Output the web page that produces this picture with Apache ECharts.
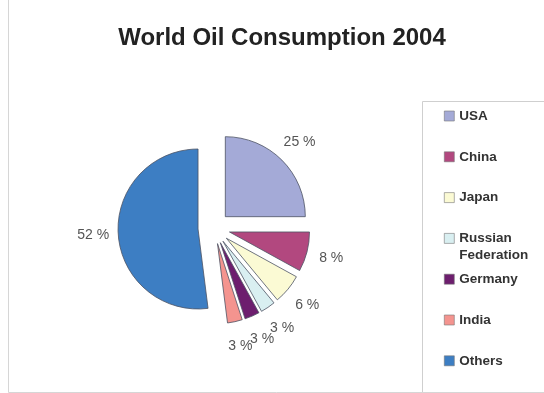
<!DOCTYPE html>
<html>
<head>
<meta charset="utf-8">
<script src="https://cdn.jsdelivr.net/npm/echarts@6/dist/echarts.min.js"></script>
<style>
  html, body { margin: 0; padding: 0; background: #fff; }
  #chart { width: 544px; height: 393px; }
</style>
</head>
<body>
<div id="chart"></div>
<script>
// data
const countries = ["USA", "China", "Japan", "Russian Federation", "Germany", "India", "Others"];
const shares = [25, 8, 6, 3, 3, 3, 52];
// washed-out Excel 2003 palette
const colors = ["#a4aad7", "#b2487f", "#fbfad4", "#d9eff1", "#6d1e6e", "#f4948f", "#3d7ec3"];

const pieData = countries.map((name, i) => ({
  name: name,
  value: shares[i],
  selected: true,
  itemStyle: { color: colors[i] },
}));

// excel-ish labels sit centred on the radial line, so they come from a
// second, invisible ring whose "inside" labels land just past the slices
const labelRing = countries.map((name, i) => ({ name: name, value: shares[i] }));

const font = "Liberation Sans";
const center = [214, 228];

// one legend block per item so the two-line entry keeps the even spacing
const legendStep = 40.8;
const legends = countries.map((name, i) => {
  const twoLine = name.indexOf(" ") > 0;
  const cy = 116 + i * legendStep;
  return {
    orient: "vertical",
    left: 444,
    top: cy - (twoLine ? 25.5 : 8.5),
    padding: 0,
    itemWidth: 10,
    itemHeight: 10,
    icon: "rect",
    selectedMode: false,
    data: [name],
    // leading blank line keeps the first line level with the icon
    formatter: (n) => (twoLine ? "\n" + n.replace(" ", "\n") : n),
    itemStyle: { borderColor: "#777", borderWidth: 0.6 },
    textStyle: {
      fontFamily: font,
      fontSize: 13.5,
      fontWeight: "bold",
      color: "#333",
      lineHeight: 17,
    },
  };
});

const option = {
  backgroundColor: "#fff",
  animation: false,
  title: {
    text: "World Oil Consumption 2004",
    left: 277,
    textAlign: "center",
    top: 21,
    textStyle: {
      fontFamily: font,
      fontSize: 24,
      fontWeight: "bold",
      color: "#222",
    },
  },
  // outer frame + legend box
  graphic: [
    {
      type: "polyline",
      shape: { points: [[8.5, 0], [8.5, 392.5], [544, 392.5]] },
      style: { stroke: "#d6d6d6", lineWidth: 1, fill: null },
    },
    {
      type: "polyline",
      shape: { points: [[544, 101.5], [422.5, 101.5], [422.5, 392]] },
      style: { stroke: "#cfcfcf", lineWidth: 1, fill: null },
    },
  ],
  legend: legends,
  series: [
    {
      type: "pie",
      center: center,
      radius: 80,
      startAngle: 90,
      clockwise: true,
      selectedMode: "multiple",
      selectedOffset: 16,
      itemStyle: { borderColor: "#4d5363", borderWidth: 0.8 },
      label: { show: false },
      labelLine: { show: false },
      emphasis: { disabled: true },
      data: pieData,
    },
    {
      type: "pie",
      center: center,
      radius: [110, 126],
      startAngle: 90,
      clockwise: true,
      silent: true,
      legendHoverLink: false,
      avoidLabelOverlap: false,
      itemStyle: { color: "rgba(0,0,0,0)" },
      label: {
        show: true,
        position: "inside",
        formatter: "{c} %",
        fontFamily: font,
        fontSize: 14,
        color: "#555",
      },
      labelLayout: { hideOverlap: false },
      labelLine: { show: false },
      emphasis: { disabled: true },
      data: labelRing,
    },
  ],
};

const chart = echarts.init(document.getElementById("chart"));
chart.setOption(option);
</script>
</body>
</html>
